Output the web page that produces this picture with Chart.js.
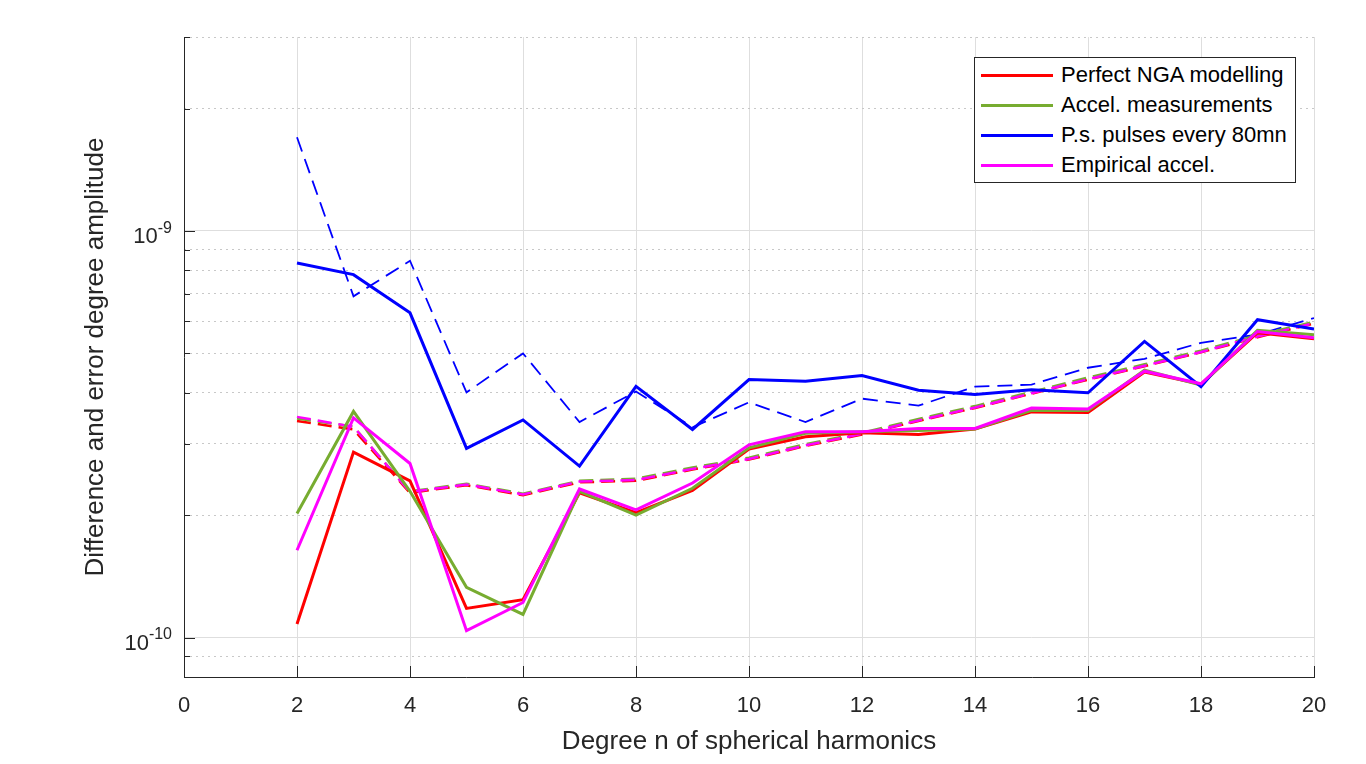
<!DOCTYPE html>
<html>
<head>
<meta charset="utf-8">
<script src="https://cdn.jsdelivr.net/npm/chart.js@4.4.1/dist/chart.umd.min.js"></script>
<style>
html,body{margin:0;padding:0;background:#fff;}
#wrap{position:relative;width:1366px;height:764px;}
#legend{position:absolute;left:974px;top:57px;width:320px;height:124px;border:1px solid #262626;background:#fff;font-family:"Liberation Sans",Arial,Helvetica,sans-serif;font-size:22px;color:#000;}
.item{position:absolute;left:0;height:30px;display:flex;align-items:center;}
.swatch{display:inline-block;margin-left:6px;width:72px;height:3px;}
.lbl{margin-left:8px;white-space:nowrap;}
.ylab{position:absolute;font-family:"Liberation Sans",Arial,Helvetica,sans-serif;font-size:22px;line-height:22px;color:#262626;white-space:nowrap;text-align:right;}
.ylab sup{font-size:16px;line-height:0;position:relative;top:-2px;vertical-align:super;}
</style>
</head>
<body>
<div id="wrap">
<canvas id="c" width="1366" height="764"></canvas>
<div id="ylabels"></div>
<div id="legend"></div>
</div>
<script>
// ---- data ----
const degrees = [2,3,4,5,6,7,8,9,10,11,12,13,14,15,16,17,18,19,20];

const perfectSolid   = [1.08e-10,2.86e-10,2.43e-10,1.18e-10,1.24e-10,2.27e-10,2.03e-10,2.30e-10,2.91e-10,3.12e-10,3.19e-10,3.16e-10,3.26e-10,3.59e-10,3.58e-10,4.50e-10,4.20e-10,5.62e-10,5.43e-10];
const accelSolid     = [2.02e-10,3.60e-10,2.29e-10,1.33e-10,1.14e-10,2.29e-10,2.00e-10,2.33e-10,2.93e-10,3.18e-10,3.21e-10,3.23e-10,3.26e-10,3.62e-10,3.62e-10,4.55e-10,4.18e-10,5.70e-10,5.56e-10];
const pulsesSolid    = [8.34e-10,7.81e-10,6.29e-10,2.92e-10,3.43e-10,2.64e-10,4.15e-10,3.25e-10,4.31e-10,4.27e-10,4.41e-10,4.06e-10,3.96e-10,4.07e-10,4.00e-10,5.35e-10,4.14e-10,6.05e-10,5.74e-10];
const empiricalSolid = [1.64e-10,3.47e-10,2.68e-10,1.04e-10,1.22e-10,2.32e-10,2.06e-10,2.40e-10,2.98e-10,3.21e-10,3.21e-10,3.27e-10,3.27e-10,3.67e-10,3.65e-10,4.52e-10,4.21e-10,5.66e-10,5.46e-10];

const perfectDashed   = [3.41e-10,3.25e-10,2.27e-10,2.37e-10,2.24e-10,2.41e-10,2.43e-10,2.59e-10,2.74e-10,2.96e-10,3.16e-10,3.41e-10,3.67e-10,3.98e-10,4.31e-10,4.65e-10,5.03e-10,5.48e-10,5.92e-10];
const accelDashed     = [3.46e-10,3.30e-10,2.29e-10,2.39e-10,2.26e-10,2.43e-10,2.46e-10,2.62e-10,2.77e-10,2.99e-10,3.19e-10,3.45e-10,3.71e-10,4.02e-10,4.36e-10,4.70e-10,5.08e-10,5.54e-10,5.98e-10];
const pulsesDashed    = [1.70e-9,6.91e-10,8.45e-10,4.01e-10,5.00e-10,3.39e-10,4.03e-10,3.29e-10,3.79e-10,3.39e-10,3.87e-10,3.72e-10,4.14e-10,4.19e-10,4.61e-10,4.85e-10,5.31e-10,5.56e-10,6.11e-10];
const empiricalDashed = [3.49e-10,3.30e-10,2.28e-10,2.38e-10,2.25e-10,2.42e-10,2.44e-10,2.60e-10,2.75e-10,2.97e-10,3.17e-10,3.42e-10,3.68e-10,3.99e-10,4.32e-10,4.66e-10,5.04e-10,5.50e-10,5.93e-10];

const seriesNames = ['Perfect NGA modelling','Accel. measurements','P.s. pulses every 80mn','Empirical accel.'];

const xTicks = [0,2,4,6,8,10,12,14,16,18,20];
const yMajorTicks = [1e-10, 1e-9];
const yLabelBase = '10';
const yLabelExponents = ['-10', '-9'];
const yMinorTicks = [9e-11,2e-10,3e-10,4e-10,5e-10,6e-10,7e-10,8e-10,9e-10,2e-9,3e-9];

const xTitle = 'Degree n of spherical harmonics';
const yTitle = 'Difference and error degree amplitude';

// ---- styles ----
const colors = {red:'#ff0000', green:'#77ac30', blue:'#0000ff', magenta:'#ff00ff'};
const FONT = '"Liberation Sans", Arial, Helvetica, sans-serif';
const TXT = '#262626';

const pts = arr => degrees.map((d,i)=>({x:d, y:arr[i]}));
function solid(label, arr, color){
  return {label, data:pts(arr), borderColor:color, backgroundColor:color, borderWidth:3, pointRadius:0, tension:0, fill:false, inLegend:true};
}
function dashed(label, arr, color, w, dash){
  return {label, data:pts(arr), borderColor:color, backgroundColor:color, borderWidth:w, borderDash:dash, pointRadius:0, tension:0, fill:false, inLegend:false};
}

const datasets = [
  solid(seriesNames[3], empiricalSolid, colors.magenta),
  solid(seriesNames[2], pulsesSolid, colors.blue),
  solid(seriesNames[1], accelSolid, colors.green),
  solid(seriesNames[0], perfectSolid, colors.red),
  dashed(seriesNames[3]+' (error)', empiricalDashed, colors.magenta, 2.5, [14,7]),
  dashed(seriesNames[1]+' (error)', accelDashed, colors.green, 2.5, [14,7]),
  dashed(seriesNames[0]+' (error)', perfectDashed, colors.red, 2.5, [14,7]),
  dashed(seriesNames[2]+' (error)', pulsesDashed, colors.blue, 1.8, [15,8]),
];

const inwardTicks = {
  id:'inwardTicks',
  afterDraw(chart){
    const {ctx, chartArea:a, scales} = chart;
    ctx.save();
    ctx.strokeStyle = TXT; ctx.lineWidth = 1;
    ctx.beginPath();
    xTicks.forEach(v=>{ const px = Math.round(scales.x.getPixelForValue(v))+0.5; ctx.moveTo(px, a.bottom); ctx.lineTo(px, a.bottom-11); });
    yMajorTicks.forEach(v=>{ const py = Math.round(scales.y.getPixelForValue(v))+0.5; ctx.moveTo(a.left, py); ctx.lineTo(a.left+11, py); });
    yMinorTicks.forEach(v=>{ const py = Math.round(scales.y.getPixelForValue(v))+0.5; ctx.moveTo(a.left, py); ctx.lineTo(a.left+6, py); });
    ctx.stroke();
    ctx.restore();
  }
};

const htmlOverlay = {
  id:'htmlOverlay',
  afterDraw(chart){
    // y tick labels with superscript exponents
    const yl = document.getElementById('ylabels');
    yl.innerHTML = '';
    const a = chart.chartArea;
    yMajorTicks.forEach((v,i)=>{
      const py = chart.scales.y.getPixelForValue(v);
      const el = document.createElement('div');
      el.className = 'ylab';
      el.style.right = (1366 - (a.left - 12)) + 'px';
      el.style.top = (py - 6) + 'px';
      el.innerHTML = yLabelBase + '<sup>' + yLabelExponents[i] + '</sup>';
      yl.appendChild(el);
    });
    // legend
    const box = document.getElementById('legend');
    box.innerHTML = '';
    const items = chart.data.datasets.filter(d=>d.inLegend);
    seriesNames.forEach((name,i)=>{
      const ds = items.find(d=>d.label===name);
      const row = document.createElement('div');
      row.className='item';
      row.style.top = (2 + i*30) + 'px';
      const sw = document.createElement('span'); sw.className='swatch'; sw.style.background = ds.borderColor;
      const lb = document.createElement('span'); lb.className='lbl'; lb.textContent = ds.label;
      row.appendChild(sw); row.appendChild(lb);
      box.appendChild(row);
    });
  }
};

Chart.defaults.font.family = FONT;
Chart.defaults.color = TXT;

new Chart(document.getElementById('c'), {
  type:'line',
  data:{datasets},
  options:{
    responsive:false,
    animation:false,
    devicePixelRatio:1,
    layout:{padding:{top:37, right:52, left:0, bottom:0}},
    plugins:{legend:{display:false}, tooltip:{enabled:false}},
    scales:{
      x:{
        type:'linear', position:'bottom', min:0, max:20,
        afterBuildTicks:s=>{ s.ticks = xTicks.map(v=>({value:v})); },
        afterFit:s=>{ s.height = 87; },
        ticks:{font:{size:22}, color:TXT, padding:16, autoSkip:false, maxRotation:0},
        grid:{color:'#dedede', lineWidth:1, drawTicks:false},
        border:{display:true, color:TXT, width:1},
        title:{display:true, text:xTitle, font:{size:26}, color:TXT, padding:{top:0,bottom:7}}
      },
      y:{
        type:'logarithmic', position:'left', min:8e-11, max:3e-9,
        afterBuildTicks:s=>{ s.ticks = yMajorTicks.map(v=>({value:v})); },
        afterFit:s=>{ s.width = 184; },
        ticks:{display:false},
        grid:{color:'#dedede', lineWidth:1, drawTicks:false},
        border:{display:true, color:TXT, width:1},
        title:{display:true, text:yTitle, font:{size:26}, color:TXT, padding:{top:80,bottom:0}}
      },
      y2:{
        type:'logarithmic', position:'left', min:8e-11, max:3e-9,
        afterBuildTicks:s=>{ s.ticks = yMinorTicks.map(v=>({value:v})); },
        afterFit:s=>{ s.width = 0; },
        ticks:{display:false},
        grid:{color:'#c8c8c8', lineWidth:1, drawTicks:false},
        border:{display:false, dash:[2,4]}
      }
    }
  },
  plugins:[inwardTicks, htmlOverlay]
});
</script>
</body>
</html>
